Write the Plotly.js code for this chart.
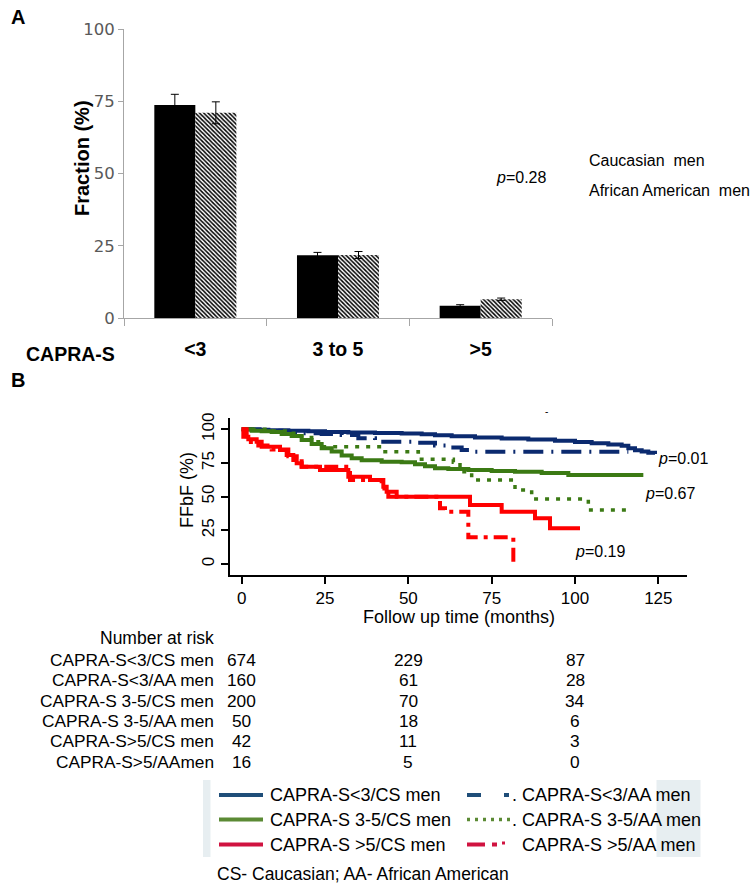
<!DOCTYPE html>
<html><head><meta charset="utf-8">
<script src="https://cdn.plot.ly/plotly-3.0.1.min.js"></script>
<style>html,body{margin:0;padding:0;background:#fff}#chart{width:754px;height:887px}</style>
</head><body><div id="chart"></div>
<script>
const W = 754, H = 887;
const FONT = 'Liberation Sans, Arial, sans-serif';
const FONT_A = 'DejaVu Sans, Verdana, sans-serif';

// ---------- Panel A data ----------
const capraCats = ['<3', '3 to 5', '>5'];
const fracCS = [73.7, 21.7, 4.2];
const errCS = [3.7, 1.0, 0.4];
const fracAA = [71.0, 21.8, 6.5];
const errAA = [3.8, 1.2, 0.4];
const namesA = ['Caucasian  men', 'African American  men'];
const pValueA = '<i>p</i>=0.28';

// ---------- Panel B data (Kaplan-Meier, FFbF %) ----------
const kmNames = ['CAPRA-S<3/CS men', 'CAPRA-S<3/AA men', 'CAPRA-S 3-5/CS men',
                 'CAPRA-S 3-5/AA men', 'CAPRA-S >5/CS men', 'CAPRA-S >5/AA men'];
const tLowCS = [0, 3, 8, 14, 20, 25, 32, 40, 48, 54, 58, 63, 70, 78, 86, 94, 100, 105, 110, 114, 116, 118, 120, 122, 124];
const sLowCS = [100, 99.7, 99.3, 99, 98.5, 98, 97.6, 97.2, 96.8, 96.3, 95.5, 94.8, 94, 93.2, 92.5, 91.5, 90.5, 89.6, 88.8, 87.8, 86, 84.5, 83.5, 82.5, 81.7];
const tLowAA = [0, 6, 12, 18, 24, 30, 35, 40, 52, 58, 62, 66, 70, 116];
const sLowAA = [100, 99, 98, 97, 96.5, 95.8, 93.3, 90.8, 90, 88, 86.4, 84.6, 83.4, 83.4];
const tMidCS = [0, 3, 6, 9, 12, 15, 18, 21, 24, 27, 30, 33, 36, 42, 48, 52, 55, 58, 62, 68, 75, 82, 90, 98, 120.5];
const sMidCS = [100, 99, 98.5, 98, 96.5, 95, 92, 89, 86, 83.5, 80.5, 78.5, 77, 76, 75.5, 74, 72.5, 71, 70.5, 69.8, 69, 68.5, 67.5, 66, 66];
const tMidAA = [3, 8, 14, 18, 21, 24, 43, 53, 63.5, 65.5, 69, 82, 87, 104, 115.5];
const sMidAA = [100, 98.7, 97, 94, 90.8, 87, 83.4, 77.7, 75.5, 68.5, 62.4, 55, 48.3, 40, 40];
const tHighCS = [0, 0.5, 2, 4.5, 6, 11.5, 13.5, 15.5, 16.5, 18, 23.5, 32, 38.5, 42.5, 43.5, 46.5, 68.5, 78, 88, 92.5, 101.5];
const sHighCS = [100, 94.5, 92.6, 90.8, 87, 84.6, 81, 77.2, 74.8, 72.2, 69.8, 64.8, 62.4, 57.4, 53.7, 50, 43.8, 38.8, 34, 26.5, 26.5];
const tHighAA = [0, 1.5, 5, 9, 14, 18, 32.5, 42, 44, 59.5, 61, 68, 81.5];
const sHighAA = [100, 90.5, 88, 85, 80, 72.2, 62.4, 56, 50, 41.3, 38.8, 19.8, 0];
const pValuesB = ['<i>p</i>=0.01', '<i>p</i>=0.67', '<i>p</i>=0.19'];

// ---------- Number at risk ----------
const riskTimes = [0, 50, 100];
const riskLabels = ['CAPRA-S<3/CS men', 'CAPRA-S<3/AA men', 'CAPRA-S 3-5/CS men',
                    'CAPRA-S 3-5/AA men', 'CAPRA-S>5/CS men', 'CAPRA-S>5/AAmen'];
const riskLowCS = [674, 229, 87];
const riskLowAA = [160, 61, 28];
const riskMidCS = [200, 70, 34];
const riskMidAA = [50, 18, 6];
const riskHighCS = [42, 11, 3];
const riskHighAA = [16, 5, 0];

// ---------- Legend labels ----------
const legendLeft = ['CAPRA-S<3/CS men', 'CAPRA-S 3-5/CS men', 'CAPRA-S >5/CS men'];
const legendRight = ['. CAPRA-S<3/AA men', '. CAPRA-S 3-5/AA men', '  CAPRA-S >5/AA men'];
const footnote = 'CS- Caucasian; AA- African American';

// ---------- helpers ----------
const px = x => x / W;
const py = y => 1 - y / H;
function ann(text, x, y, size, opts) {
  return Object.assign({
    text: text, x: px(x), y: py(y), xref: 'paper', yref: 'paper', showarrow: false,
    xanchor: 'left', yanchor: 'middle', font: {family: FONT, size: size, color: '#000'}
  }, opts || {});
}

const BLUE = '#0b2a6f', GREEN = '#3b7a14', RED = '#ff0000';
const LBLUE = '#1f4e79', LGREEN = '#5b8a34', LRED = '#d01340';

const traces = [
  {type: 'bar', x: capraCats, y: fracCS, name: namesA[0], xaxis: 'x', yaxis: 'y',
   marker: {color: '#000', line: {width: 0}},
   error_y: {type: 'data', array: errCS, color: '#000', thickness: 1, width: 4}},
  {type: 'bar', x: capraCats, y: fracAA, name: namesA[1], xaxis: 'x', yaxis: 'y',
   marker: {color: '#fff', line: {width: 0},
            pattern: {shape: '\\', fgcolor: '#000', bgcolor: '#fff', size: 3, solidity: 0.5}},
   error_y: {type: 'data', array: errAA, color: '#000', thickness: 1, width: 4}},
  {type: 'scatter', mode: 'lines', x: tLowCS, y: sLowCS, name: kmNames[0], xaxis: 'x2', yaxis: 'y2',
   line: {shape: 'hv', color: BLUE, width: 4}},
  {type: 'scatter', mode: 'lines', x: tLowAA, y: sLowAA, name: kmNames[1], xaxis: 'x2', yaxis: 'y2',
   line: {shape: 'hv', color: BLUE, width: 4, dash: '20px,8px,2px,8px'}},
  {type: 'scatter', mode: 'lines', x: tMidCS, y: sMidCS, name: kmNames[2], xaxis: 'x2', yaxis: 'y2',
   line: {shape: 'hv', color: GREEN, width: 4}},
  {type: 'scatter', mode: 'lines', x: tMidAA, y: sMidAA, name: kmNames[3], xaxis: 'x2', yaxis: 'y2',
   line: {shape: 'hv', color: GREEN, width: 3.5, dash: '4px,7px'}},
  {type: 'scatter', mode: 'lines', x: tHighCS, y: sHighCS, name: kmNames[4], xaxis: 'x2', yaxis: 'y2',
   line: {shape: 'hv', color: RED, width: 4}},
  {type: 'scatter', mode: 'lines', x: tHighAA, y: sHighAA, name: kmNames[5], xaxis: 'x2', yaxis: 'y2',
   line: {shape: 'hv', color: RED, width: 4, dash: '14px,6px,4px,6px'}}
];

const annotations = [
  ann('<b>A</b>', 9, 17, 20),
  ann('<b>B</b>', 9, 380, 20),
  ann('<b>Fraction (%)</b>', 82, 158, 20, {xanchor: 'center', textangle: -90}),
  ann('<b>CAPRA-S</b>', 117, 354, 19.5, {xanchor: 'right'}),
  ann(pValueA, 494, 177, 16),
  ann(namesA[0], 587, 161, 16),
  ann(namesA[1], 587, 190, 16),
  ann('FFbF (%)', 187, 490, 18, {xanchor: 'center', textangle: -90}),
  ann('Follow up time (months)', 459, 617, 18, {xanchor: 'center'}),
  ann(pValuesB[0], 656, 458, 16),
  ann(pValuesB[1], 643, 494, 16),
  ann(pValuesB[2], 573, 551, 16),
  ann('-', 546, 411, 10, {xanchor: 'center'}),
  ann('Number at risk', 216, 638, 17.5, {xanchor: 'right'}),
  ann(footnote, 215, 874, 17.5)
];

const riskRows = [riskLowCS, riskLowAA, riskMidCS, riskMidAA, riskHighCS, riskHighAA];
riskRows.forEach((row, i) => {
  const yy = 660 + i * 20.3;
  annotations.push(ann(riskLabels[i], 216, yy, 17.3, {xanchor: 'right'}));
  row.forEach((v, j) => {
    annotations.push({text: String(v), x: riskTimes[j], xref: 'x2', y: py(yy), yref: 'paper',
      showarrow: false, xanchor: 'center', yanchor: 'middle', font: {family: FONT, size: 17.3, color: '#000'}});
  });
});

const legendRowsY = [795, 819.5, 844.5];
const shapes = [
  {type: 'rect', xref: 'paper', yref: 'paper', x0: px(203), x1: px(210.5), y0: py(857), y1: py(780),
   fillcolor: '#e7eef1', line: {width: 0}, layer: 'below'},
  {type: 'rect', xref: 'paper', yref: 'paper', x0: px(656.5), x1: px(700.5), y0: py(857), y1: py(780),
   fillcolor: '#e7eef1', line: {width: 0}, layer: 'below'}
];
const leftColors = [LBLUE, LGREEN, LRED];
legendRowsY.forEach((yy, i) => {
  shapes.push({type: 'line', xref: 'paper', yref: 'paper', x0: px(219), x1: px(263), y0: py(yy), y1: py(yy),
    line: {color: leftColors[i], width: 4}});
  annotations.push(ann(legendLeft[i], 268, yy, 18));
  annotations.push(ann(legendRight[i], 510, yy, 18));
});
// right column legend samples
shapes.push({type: 'line', xref: 'paper', yref: 'paper', x0: px(467), x1: px(481), y0: py(795), y1: py(795), line: {color: LBLUE, width: 4}});
shapes.push({type: 'line', xref: 'paper', yref: 'paper', x0: px(504), x1: px(509), y0: py(795), y1: py(795), line: {color: LBLUE, width: 4}});
shapes.push({type: 'line', xref: 'paper', yref: 'paper', x0: px(467), x1: px(510), y0: py(819.5), y1: py(819.5), line: {color: LGREEN, width: 3.5, dash: '3px,5px'}});
shapes.push({type: 'line', xref: 'paper', yref: 'paper', x0: px(467), x1: px(485), y0: py(844.5), y1: py(844.5), line: {color: LRED, width: 4}});
shapes.push({type: 'line', xref: 'paper', yref: 'paper', x0: px(492), x1: px(497), y0: py(844.5), y1: py(844.5), line: {color: LRED, width: 4}});
shapes.push({type: 'line', xref: 'paper', yref: 'paper', x0: px(502), x1: px(505), y0: py(843), y1: py(843), line: {color: LRED, width: 3}});

const layout = {
  width: W, height: H, margin: {l: 0, r: 0, t: 0, b: 0},
  paper_bgcolor: '#fff', plot_bgcolor: 'rgba(0,0,0,0)',
  showlegend: false, barmode: 'group', bargap: 0.425, bargroupgap: 0,
  font: {family: FONT, color: '#000'},
  xaxis: {domain: [px(124), px(552)], anchor: 'y', type: 'category',
    showline: true, linecolor: '#a6a6a6', linewidth: 1, ticks: 'outside', tickson: 'boundaries',
    ticklen: 7, tickcolor: '#a6a6a6', showgrid: false, zeroline: false,
    tickfont: {family: FONT, size: 19.5, color: '#000', weight: 'bold'}, ticklabelstandoff: 14},
  yaxis: {domain: [py(318), py(29)], anchor: 'x', range: [0, 100], tickvals: [0, 25, 50, 75, 100],
    showline: true, linecolor: '#a6a6a6', linewidth: 1, ticks: 'outside', ticklen: 5, tickcolor: '#a6a6a6',
    showgrid: false, zeroline: false, tickfont: {family: FONT_A, size: 16.5, color: '#595959'}},
  xaxis2: {domain: [px(230), px(687)], anchor: 'y2', range: [-3.5, 133.6],
    tickvals: [0, 25, 50, 75, 100, 125], showline: true, linecolor: '#000', linewidth: 2,
    ticks: 'outside', ticklen: 7, tickwidth: 2, tickcolor: '#000', showgrid: false, zeroline: false,
    tickfont: {family: FONT, size: 17, color: '#000'}},
  yaxis2: {domain: [py(575), py(418)], anchor: 'x2', range: [-8.2, 108.4],
    tickvals: [0, 25, 50, 75, 100], tickangle: -90, showline: true, linecolor: '#000', linewidth: 2,
    ticks: 'outside', ticklen: 7, tickwidth: 2, tickcolor: '#000', showgrid: false, zeroline: false,
    tickfont: {family: FONT, size: 17, color: '#000'}},
  annotations: annotations,
  shapes: shapes
};

Plotly.newPlot('chart', traces, layout, {staticPlot: true, displayModeBar: false});
</script>
</body></html>
